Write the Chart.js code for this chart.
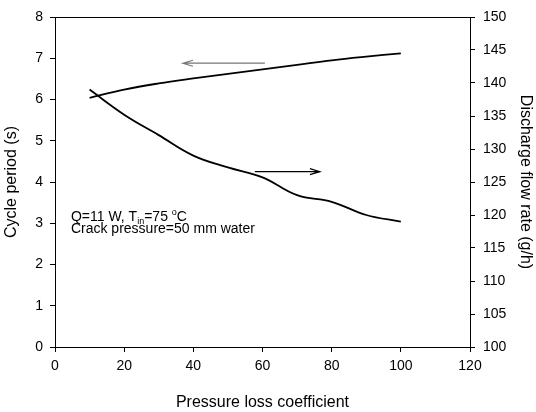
<!DOCTYPE html>
<html>
<head>
<meta charset="utf-8">
<script src="https://cdn.jsdelivr.net/npm/chart.js@4.4.0/dist/chart.umd.min.js"></script>
<style>
  html, body { margin: 0; padding: 0; background: #fff; }
  #wrap { width: 536px; height: 412px; position: relative; }
</style>
</head>
<body>
<div id="wrap"><canvas id="chartCycle"></canvas></div>
<script>
// datos
const lossCoef = [10, 20, 30, 40, 50, 60, 70, 80, 90, 100];
const cyclePeriod = [6.04, 6.24, 6.39, 6.51, 6.62, 6.73, 6.84, 6.95, 7.04, 7.12];
const flowRate = [139.0, 135.2, 132.1, 129.0, 127.2, 125.7, 123.0, 122.0, 120.0, 119.0];
const xTicks = [0, 20, 40, 60, 80, 100, 120];
const leftTicks = [0, 1, 2, 3, 4, 5, 6, 7, 8];
const rightTicks = [100, 105, 110, 115, 120, 125, 130, 135, 140, 145, 150];

// flechas: [x inicio, x fin, y (eje izq)]
const arrowLeft = [60.7, 37, 6.88];
const arrowRight = [57.8, 76.6, 4.25];

const FONT = '"Liberation Sans", Arial, sans-serif';

// plugin: marco, flechas y texto
const extras = {
  id: 'extras',
  afterDraw(chart) {
    const { ctx, chartArea: a, scales } = chart;
    const x = scales.x, y = scales.y;
    ctx.save();
    ctx.strokeStyle = '#000';
    ctx.lineWidth = 1;
    ctx.beginPath();
    ctx.moveTo(a.left, a.top + 0.5);
    ctx.lineTo(a.right, a.top + 0.5);
    ctx.stroke();

    function arrow(def, color) {
      const x0 = x.getPixelForValue(def[0]);
      const x1 = x.getPixelForValue(def[1]);
      const yy = y.getPixelForValue(def[2]);
      const dir = x1 > x0 ? 1 : -1;
      ctx.strokeStyle = color;
      ctx.lineWidth = 1.2;
      ctx.beginPath();
      ctx.moveTo(x0, yy);
      ctx.lineTo(x1, yy);
      ctx.moveTo(x1 - dir * 10, yy - 3);
      ctx.lineTo(x1, yy);
      ctx.lineTo(x1 - dir * 10, yy + 3);
      ctx.stroke();
    }
    arrow(arrowLeft, '#777');
    arrow(arrowRight, '#000');

    // anotación
    const tx = x.getPixelForValue(4.6);
    const ty1 = y.getPixelForValue(3.05);
    const ty2 = y.getPixelForValue(2.76);
    ctx.fillStyle = '#000';
    ctx.textBaseline = 'alphabetic';
    ctx.font = '14px ' + FONT;
    let s = 'Q=11 W, T';
    ctx.fillText(s, tx, ty1);
    let cx = tx + ctx.measureText(s).width;
    ctx.font = '9px ' + FONT;
    ctx.fillText('in', cx, ty1 + 3);
    cx += ctx.measureText('in').width;
    ctx.font = '14px ' + FONT;
    ctx.fillText('=75 ', cx, ty1);
    cx += ctx.measureText('=75 ').width;
    ctx.font = '9px ' + FONT;
    ctx.fillText('o', cx, ty1 - 6);
    cx += ctx.measureText('o').width;
    ctx.font = '14px ' + FONT;
    ctx.fillText('C', cx, ty1);
    ctx.fillText('Crack pressure=50 mm water', tx, ty2);
    ctx.restore();
  }
};

const tickStyle = {
  display: true,
  drawOnChartArea: false,
  drawTicks: true,
  tickLength: 5,
  color: '#000'
};

const ctx = document.getElementById('chartCycle').getContext('2d');
new Chart(ctx, {
  type: 'line',
  data: {
    datasets: [
      {
        label: 'Cycle period',
        data: lossCoef.map((v, i) => ({ x: v, y: cyclePeriod[i] })),
        borderColor: '#000',
        borderWidth: 1.8,
        pointRadius: 0,
        tension: 0.4,
        yAxisID: 'y'
      },
      {
        label: 'Discharge flow rate',
        data: lossCoef.map((v, i) => ({ x: v, y: flowRate[i] })),
        borderColor: '#000',
        borderWidth: 1.8,
        pointRadius: 0,
        tension: 0.4,
        yAxisID: 'y1'
      }
    ]
  },
  options: {
    responsive: true,
    maintainAspectRatio: false,
    animation: false,
    layout: { padding: { top: 17, left: 0, right: 0, bottom: 0 } },
    plugins: {
      legend: { display: false },
      tooltip: { enabled: false }
    },
    scales: {
      x: {
        type: 'linear',
        min: 0, max: 120,
        afterBuildTicks: s => { s.ticks = xTicks.map(v => ({ value: v })); },
        afterFit: s => { s.height = 65; },
        grid: tickStyle,
        border: { display: true, color: '#000', width: 1 },
        ticks: { color: '#000', font: { family: FONT, size: 14 }, padding: 6, maxRotation: 0 },
        title: { display: true, text: 'Pressure loss coefficient', color: '#000', font: { family: FONT, size: 16 }, padding: { top: 0, bottom: 0 } }
      },
      y: {
        type: 'linear',
        position: 'left',
        min: 0, max: 8,
        afterBuildTicks: s => { s.ticks = leftTicks.map(v => ({ value: v })); },
        afterFit: s => { s.width = 55; },
        grid: tickStyle,
        border: { display: true, color: '#000', width: 1 },
        ticks: { color: '#000', font: { family: FONT, size: 14 }, padding: 7 },
        title: { display: true, text: 'Cycle period (s)', color: '#000', font: { family: FONT, size: 16 }, padding: { top: 2, bottom: 0 } }
      },
      y1: {
        type: 'linear',
        position: 'right',
        min: 100, max: 150,
        afterBuildTicks: s => { s.ticks = rightTicks.map(v => ({ value: v })); },
        afterFit: s => { s.width = 66; },
        grid: tickStyle,
        border: { display: true, color: '#000', width: 1 },
        ticks: { color: '#000', font: { family: FONT, size: 14 }, padding: 8 },
        title: { display: true, text: 'Discharge flow rate (g/h)', color: '#000', font: { family: FONT, size: 16 }, padding: { top: 1, bottom: 0 } }
      }
    }
  },
  plugins: [extras]
});
</script>
</body>
</html>
